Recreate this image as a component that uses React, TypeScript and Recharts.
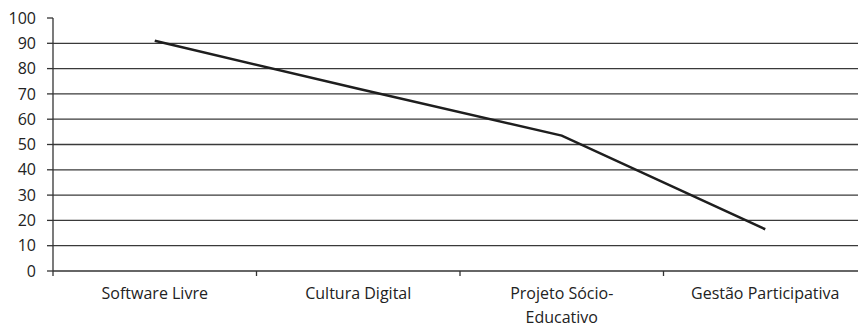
import React from 'react';
import { ComposedChart, Line, XAxis, YAxis, ReferenceLine } from 'recharts';

const categories = ['Software Livre', 'Cultura Digital', 'Projeto Sócio-Educativo', 'Gestão Participativa'];
const values = [91, 72, 53.5, 16.5];
const yTicks = [0, 10, 20, 30, 40, 50, 60, 70, 80, 90, 100];
const gridValues = [10, 20, 30, 40, 50, 60, 70, 80, 90];

const data = categories.map((c, i) => ({ name: c, value: values[i] }));

const FONT = '"Open Sans", sans-serif';
const TEXT = '#222';
const AXIS = '#333';

const XTick = (props: any) => {
  const { x, y, payload, index } = props;
  const bw = 203.5;
  const base = y - 8; // axis line position
  const label: string = payload.value;
  const lines = label.includes('-') ? [label.slice(0, label.indexOf('-') + 1), label.slice(label.indexOf('-') + 1)] : [label];
  return (
    <g>
      {index === 0 && <line x1={x - bw / 2} x2={x - bw / 2} y1={base} y2={base + 5} stroke={AXIS} strokeWidth={1.3} />}
      <line x1={x + bw / 2} x2={x + bw / 2} y1={base} y2={base + 5} stroke={AXIS} strokeWidth={1.3} />
      {lines.map((ln, i) => (
        <text key={i} x={x} y={base + 28 + i * 24} textAnchor="middle" fontFamily={FONT} fontSize={16} fill={TEXT}>
          {ln}
        </text>
      ))}
    </g>
  );
};

export default function App() {
  return (
    <div style={{ position: 'absolute', left: 0, top: 0, width: 858, height: 324, overflow: 'hidden', background: '#fff' }}>
      <ComposedChart width={870} height={324} data={data} margin={{ top: 18, right: 3, bottom: 0, left: 0 }}>
        {gridValues.map((v) => (
          <ReferenceLine key={v} y={v} stroke="#3a3a3a" strokeWidth={1.3} />
        ))}
        <XAxis
          dataKey="name"
          scale="band"
          height={53}
          axisLine={{ stroke: AXIS, strokeWidth: 1.3 }}
          tickLine={false}
          tick={<XTick />}
          interval={0}
        />
        <YAxis
          domain={[0, 100]}
          ticks={yTicks}
          width={53}
          tickSize={6}
          tickMargin={11}
          axisLine={{ stroke: AXIS, strokeWidth: 1.3 }}
          tickLine={{ stroke: AXIS, strokeWidth: 1.3 }}
          tick={{ fontFamily: FONT, fontSize: 16, fill: TEXT }}
          interval={0}
        />
        <Line
          type="linear"
          dataKey="value"
          stroke="#1e1e1e"
          strokeWidth={2.5}
          dot={false}
          activeDot={false}
          isAnimationActive={false}
        />
      </ComposedChart>
    </div>
  );
}
